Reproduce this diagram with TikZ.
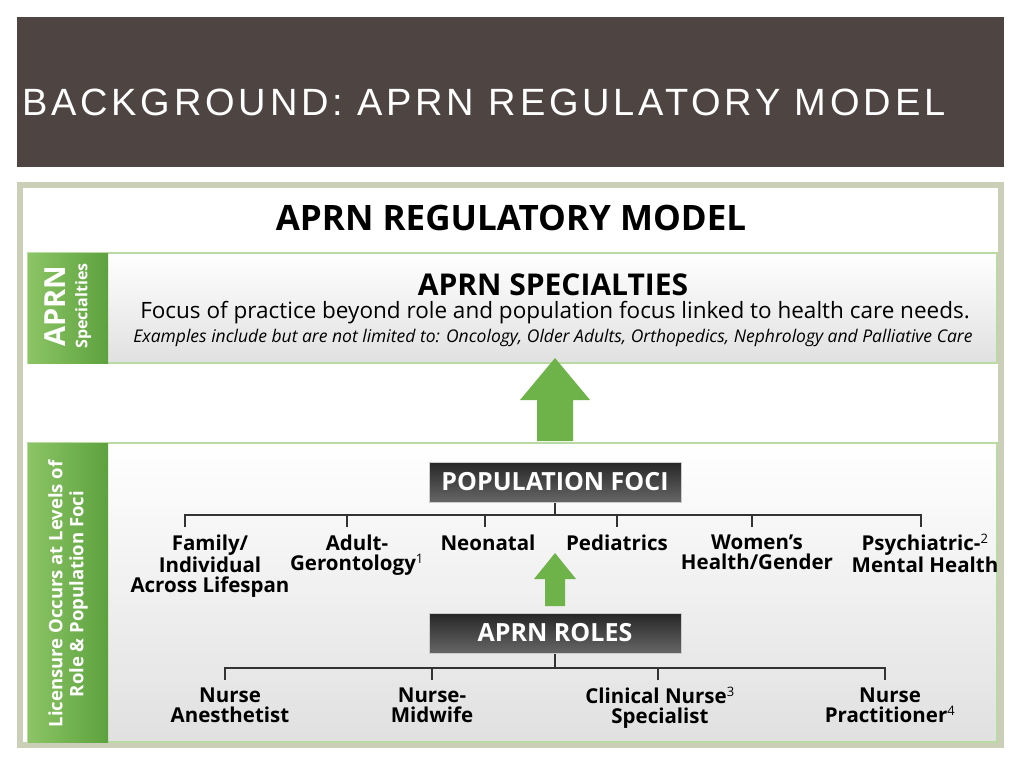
\documentclass[tikz,border=0pt]{standalone}
\usepackage{fontspec}
\setmainfont{Open Sans}
\newfontfamily\titlefont[LetterSpace=10]{Liberation Sans}
\usetikzlibrary{calc}
\definecolor{band}{HTML}{4E4542}
\definecolor{frame}{HTML}{CBCFB8}
\definecolor{gdark}{HTML}{5DA23E}
\definecolor{glight}{HTML}{8CC466}
\definecolor{gline}{HTML}{B9DBA3}
\definecolor{arrowg}{HTML}{6DB34A}
\newcommand{\sups}[1]{\smash{\textsuperscript{\normalfont\fontsize{13}{13}\selectfont #1}}}
\tikzset{
  sidebar/.style={left color=glight,right color=gdark,draw=none},
  panel/.style={top color=white,bottom color=black!12,draw=gline,line width=1.2pt},
  darkbox/.style={top color=black!85,bottom color=black!60,draw=black!20,line width=1pt,text=white,font=\bfseries\fontsize{25}{26}\selectfont,minimum width=252pt,minimum height=40pt,inner sep=0pt},
  lab/.style={font=\bfseries\fontsize{20.5}{20}\selectfont,align=center,anchor=north,inner sep=0pt},
  tree/.style={line width=1.6pt,black!80},
  side/.style={text=white,font=\bfseries,align=center,rotate=90},
}
\begin{document}
\begin{tikzpicture}[x=1pt,y=-1pt]
\useasboundingbox (0,0) rectangle (1024,768);
\fill[white] (0,0) rectangle (1024,768);
\fill[band] (17,17) rectangle (1004,167);
\node[anchor=base west,inner sep=0pt,text=white,font=\titlefont\fontsize{38}{38}\selectfont] (ttl) at (22,115) {BACKGROUND: APRN REGULATORY MODEL};
\draw[frame,line width=6pt] (20,185) rectangle (1001,745);
\node[font=\bfseries\fontsize{35}{35}\selectfont,inner sep=0pt] (mt) at (511,218) {APRN REGULATORY MODEL};
% specialties panel
\draw[panel] (28,253) rectangle (997,363);
\fill[sidebar] (28,253) rectangle (108,363);
\node[side,inner sep=0pt,font=\bfseries\fontsize{16}{22}\selectfont] (s1) at (68,306) {{\fontsize{29}{30}\selectfont APRN}\\{\fontsize{16}{16}\selectfont Specialties}};
\node[font=\bfseries\fontsize{30}{30}\selectfont,inner sep=0pt] (st) at (553,285) {APRN SPECIALTIES};
\node[font=\fontsize{22.5}{23}\selectfont,inner sep=0pt] (sf) at (555,313) {Focus of practice beyond role and population focus linked to health care needs.};
\node[font=\itshape\fontsize{17.5}{18}\selectfont,inner sep=0pt] (se) at (553,338) {Examples include but are not limited to: Oncology, Older Adults, Orthopedics, Nephrology and Palliative Care};
% lower panel
\draw[panel] (28,443) rectangle (997,742);
\fill[sidebar] (28,443) rectangle (108,742);
\node[side,font=\bfseries\fontsize{18.5}{21}\selectfont] (s2) at (68,594) {Licensure Occurs at Levels of\\Role \& Population Foci};
% big arrow
\fill[arrowg] (555,358) -- (590,400) -- (573,400) -- (573,441) -- (537,441) -- (537,400) -- (520,400) -- cycle;
\node[darkbox] (pf) at (555,482) {POPULATION FOCI};
\draw[tree] (pf.south) -- (555,515);
\draw[tree] (185,527) -- (185,515) -- (921,515) -- (921,527);
\foreach \x in {347,485,617,752} \draw[tree] (\x,515) -- (\x,527);
\node[lab] (f1) at (210,535) {Family/\\Individual\\Across Lifespan};
\node[lab] (f2) at (357,535) {Adult-\\Gerontology\sups{1}};
\node[lab] (f3) at (488,535) {Neonatal};
\node[lab] (f4) at (617,535) {Pediatrics};
\node[lab] (f5) at (757,535) {Women's\\Health/Gender};
\node[lab] (f6) at (925,535) {Psychiatric-\sups{2}\\Mental Health};
% small arrow
\fill[arrowg] (555,553) -- (576,579) -- (565,579) -- (565,606) -- (545,606) -- (545,579) -- (534,579) -- cycle;
\node[darkbox] (rl) at (555,633) {APRN ROLES};
\draw[tree] (rl.south) -- (555,668);
\draw[tree] (225,680) -- (225,668) -- (885,668) -- (885,680);
\foreach \x in {432,658} \draw[tree] (\x,668) -- (\x,680);
\node[lab] (r1) at (230,688) {Nurse\\Anesthetist};
\node[lab] (r2) at (432,688) {Nurse-\\Midwife};
\node[lab] (r3) at (660,688) {Clinical Nurse\sups{3}\\Specialist};
\node[lab] (r4) at (890,688) {Nurse\\Practitioner\sups{4}};
\end{tikzpicture}
\end{document}
